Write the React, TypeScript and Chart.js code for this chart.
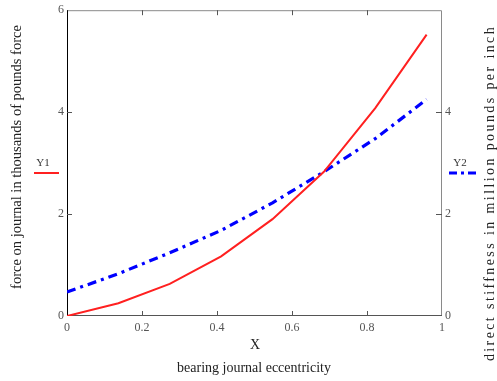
import React, { useEffect, useRef } from "react";
import { Chart, registerables } from "chart.js";
Chart.register(...registerables);

const eccentricity = [0, 0.137, 0.274, 0.411, 0.548, 0.685, 0.822, 0.959];
const forceY1 = [0, 0.25, 0.63, 1.17, 1.9, 2.83, 4.08, 5.52];
const stiffnessY2 = [0.47, 0.83, 1.24, 1.68, 2.22, 2.83, 3.48, 4.25];
const innerXTicks = [0.2, 0.4, 0.6, 0.8];
const innerYTicks = [2, 4];
const rightTickLabels = [0, 2, 4];

const xTitleTop = "X";
const xTitleBottom = "bearing journal eccentricity";
const y1Title = "force on journal in thousands of pounds force";
const y2Title = "direct stiffness in million pounds per inch";

const SERIF = "'Liberation Serif', 'Times New Roman', serif";

const framePlugin = {
  id: "frame",
  beforeDatasetsDraw(chart: any) {
    const { ctx, chartArea: a, scales } = chart;
    const x = scales.x, y = scales.y;
    ctx.save();
    ctx.lineWidth = 1;
    ctx.strokeStyle = "#8a8a8a";
    ctx.beginPath();
    ctx.moveTo(a.left, a.top + 0.5);
    ctx.lineTo(a.right - 0.5, a.top + 0.5);
    ctx.lineTo(a.right - 0.5, a.bottom);
    ctx.stroke();
    ctx.strokeStyle = "#555";
    ctx.beginPath();
    ctx.moveTo(a.left, a.bottom - 0.5);
    ctx.lineTo(a.right, a.bottom - 0.5);
    ctx.stroke();
    ctx.strokeStyle = "#000";
    ctx.beginPath();
    ctx.moveTo(a.left + 0.5, a.top);
    ctx.lineTo(a.left + 0.5, a.bottom);
    ctx.stroke();
    ctx.strokeStyle = "#555";
    ctx.beginPath();
    for (const v of innerXTicks) {
      const px = Math.round(x.getPixelForValue(v)) + 0.5;
      ctx.moveTo(px, a.bottom);
      ctx.lineTo(px, a.bottom - 5);
      ctx.moveTo(px, a.top);
      ctx.lineTo(px, a.top + 5);
    }
    for (const v of innerYTicks) {
      const py = Math.round(y.getPixelForValue(v)) + 0.5;
      ctx.moveTo(a.left, py);
      ctx.lineTo(a.left + 5, py);
      ctx.moveTo(a.right, py);
      ctx.lineTo(a.right - 6, py);
    }
    ctx.stroke();
    ctx.restore();
  },
  afterDraw(chart: any) {
    const { ctx } = chart;
    ctx.save();
    ctx.fillStyle = "#222";
    ctx.textAlign = "center";
    ctx.textBaseline = "middle";
    ctx.font = `14px ${SERIF}`;
    ctx.fillText(xTitleTop, 255, 345);
    ctx.fillText(xTitleBottom, 254, 368);
    ctx.save();
    ctx.font = `14.5px ${SERIF}`;
    ctx.translate(17, 157);
    ctx.rotate(-Math.PI / 2);
    ctx.fillText(y1Title, 0, 0);
    ctx.restore();
    ctx.save();
    ctx.translate(490, 193);
    ctx.rotate(-Math.PI / 2);
    (ctx as any).letterSpacing = "2.4px";
    ctx.fillText(y2Title, 0, 0);
    (ctx as any).letterSpacing = "0px";
    ctx.restore();
    ctx.font = `11px ${SERIF}`;
    ctx.fillStyle = "#333";
    ctx.fillText("Y1", 43, 163);
    ctx.fillText("Y2", 460, 163);
    ctx.strokeStyle = "#ff2020";
    ctx.lineWidth = 2;
    ctx.beginPath();
    ctx.moveTo(34, 173);
    ctx.lineTo(59, 173);
    ctx.stroke();
    ctx.strokeStyle = "#0000ff";
    ctx.lineWidth = 3;
    ctx.setLineDash([8, 4, 3, 4]);
    ctx.beginPath();
    ctx.moveTo(449, 173);
    ctx.lineTo(476, 173);
    ctx.stroke();
    ctx.restore();
  },
};

export default function App() {
  const ref = useRef<HTMLCanvasElement | null>(null);
  useEffect(() => {
    if (!ref.current) return;
    const chart = new Chart(ref.current, {
      type: "line",
      data: {
        datasets: [
          {
            label: "Y1",
            data: eccentricity.map((e, i) => ({ x: e, y: forceY1[i] })),
            borderColor: "#ff2020",
            borderWidth: 2,
            pointRadius: 0,
            tension: 0,
            yAxisID: "y",
          },
          {
            label: "Y2",
            data: eccentricity.map((e, i) => ({ x: e, y: stiffnessY2[i] })),
            borderColor: "#0000ff",
            borderWidth: 3.2,
            borderDash: [9, 5, 3, 5],
            pointRadius: 0,
            tension: 0,
            yAxisID: "y2",
          },
        ],
      },
      options: {
        animation: false,
        responsive: false,
        layout: { padding: { top: 7, left: 0, right: 0, bottom: 0 } },
        plugins: { legend: { display: false }, tooltip: { enabled: false } },
        scales: {
          x: {
            type: "linear",
            min: 0,
            max: 1,
            grid: { display: false, drawTicks: false },
            border: { display: false },
            ticks: {
              stepSize: 0.2,
              padding: 5,
              color: "#555",
              font: { family: SERIF, size: 12 },
              callback: (v: any) => String(Math.round(Number(v) * 10) / 10),
            },
            afterFit: (s: any) => { s.height = 65; },
          },
          y: {
            position: "left",
            min: 0,
            max: 6,
            grid: { display: false, drawTicks: false },
            border: { display: false },
            ticks: {
              stepSize: 2,
              padding: 3,
              color: "#555",
              font: { family: SERIF, size: 12 },
            },
            afterFit: (s: any) => { s.width = 67; },
          },
          y2: {
            position: "right",
            min: 0,
            max: 6,
            grid: { display: false, drawTicks: false },
            border: { display: false },
            ticks: {
              stepSize: 2,
              padding: 3,
              color: "#555",
              font: { family: SERIF, size: 12 },
              callback: (v: any) => (rightTickLabels.includes(Number(v)) ? String(v) : ""),
            },
            afterFit: (s: any) => { s.width = 55; },
          },
        },
      },
      plugins: [framePlugin],
    } as any);
    return () => chart.destroy();
  }, []);
  return (
    <div style={{ position: "absolute", left: 0, top: 0, width: 497, height: 381, background: "#fff" }}>
      <canvas ref={ref} width={497} height={381} style={{ width: 497, height: 381 }} />
    </div>
  );
}
